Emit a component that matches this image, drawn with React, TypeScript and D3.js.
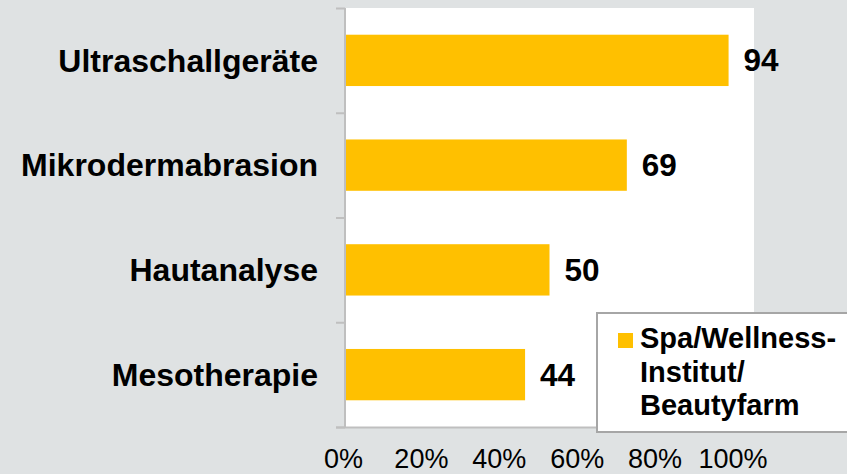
import React from "react";
import * as d3 from "d3";

const categories = ["Ultraschallgeräte", "Mikrodermabrasion", "Hautanalyse", "Mesotherapie"];
const values = [94, 69, 50, 44];
const tickValues = [0, 20, 40, 60, 80, 100];
const seriesName = ["Spa/Wellness-", "Institut/", "Beautyfarm"];

const W = 847;
const H = 474;
const plot = { left: 346, right: 753, top: 8, bottom: 427 };
const FONT = "'Liberation Sans', Arial, Helvetica, sans-serif";

export default function App() {
  const x = d3.scaleLinear().domain([0, 100]).range([plot.left, plot.right]);
  // tick labels as placed in the reference (slightly compressed relative to the bars)
  const xLabel = d3.scaleLinear().domain([0, 100]).range([343.5, 733]);
  const y = d3
    .scaleBand<string>()
    .domain(categories)
    .range([plot.top, plot.bottom])
    .paddingInner(0.51)
    .paddingOuter(0.255);
  const bandEdges = d3.scaleBand<string>().domain(categories).range([plot.top, plot.bottom]);
  const edges = [...categories.map((c) => bandEdges(c) as number), plot.bottom];

  return (
    <div style={{ position: "fixed", left: 0, top: 0 }}>
      <svg width={W} height={H} style={{ display: "block" }}>
        <rect x={0} y={0} width={W} height={H} fill="#dfe2e3" />
        <rect
          x={plot.left}
          y={plot.top}
          width={plot.right - plot.left + 1}
          height={plot.bottom - plot.top}
          fill="#ffffff"
        />
        {categories.map((c, i) => (
          <rect
            key={c}
            x={x(0)}
            y={y(c)}
            width={x(values[i]) - x(0)}
            height={y.bandwidth()}
            fill="#ffc000"
          />
        ))}
        {/* axes */}
        <line x1={plot.left - 1} x2={plot.left - 1} y1={plot.top} y2={plot.bottom + 1} stroke="#bfbfbf" strokeWidth={2} />
        <line x1={plot.left - 10} x2={plot.right + 1} y1={plot.bottom + 0.5} y2={plot.bottom + 0.5} stroke="#bfbfbf" strokeWidth={2} />
        {edges.map((e, i) => (
          <line key={i} x1={plot.left - 10} x2={plot.left - 1} y1={e + 0.5} y2={e + 0.5} stroke="#bfbfbf" strokeWidth={2} />
        ))}
        {categories.map((c) => (
          <text
            key={c}
            x={318}
            y={(y(c) as number) + y.bandwidth() / 2}
            dy="0.35em"
            textAnchor="end"
            fontFamily={FONT}
            fontWeight="bold"
            fontSize={32}
            fill="#000"
          >
            {c}
          </text>
        ))}
        {categories.map((c, i) => (
          <text
            key={c}
            x={x(values[i]) + 15}
            y={(y(c) as number) + y.bandwidth() / 2}
            dy="0.35em"
            fontFamily={FONT}
            fontWeight="bold"
            fontSize={31.5}
            fill="#000"
          >
            {values[i]}
          </text>
        ))}
        {tickValues.map((t) => (
          <text
            key={t}
            x={xLabel(t)}
            y={468}
            textAnchor="middle"
            fontFamily={FONT}
            fontSize={27}
            fill="#000"
          >
            {t}%
          </text>
        ))}
        {/* legend */}
        <rect x={597} y={313} width={270} height={119} fill="#ffffff" stroke="#a6a6a6" strokeWidth={2} />
        <rect x={618} y={333} width={15} height={15} fill="#ffc000" />
        {seriesName.map((s, i) => (
          <text
            key={s}
            x={640}
            y={348 + i * 33.5}
            fontFamily={FONT}
            fontWeight="bold"
            fontSize={29}
            fill="#000"
          >
            {s}
          </text>
        ))}
      </svg>
    </div>
  );
}
